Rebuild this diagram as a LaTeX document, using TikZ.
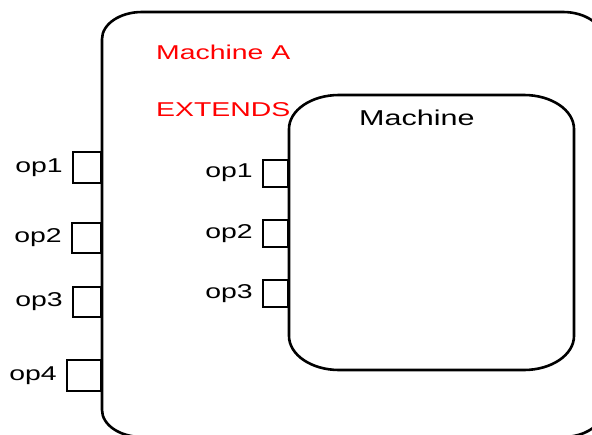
\documentclass[tikz,border=0pt]{standalone}
\usepackage{fontspec}
\setmainfont{Liberation Sans}
\newfontfamily\diagfont[FakeStretch=1.42]{Liberation Sans}
\usetikzlibrary{positioning}
\tikzset {
  machine box/.style = {
    draw = black,
    line width = 2.6pt
  },
  % interface port on the outer machine
  port/.style = {
    draw = black,
    rectangle,
    line width = 2pt,
    inner sep = 0,
    anchor = east
  },
  % interface port on the inner machine
  inport/.style = {
    port,
    minimum width = 25pt,
    minimum height = 27pt
  },
  op label/.style = {
    inner sep = 0,
    font = \diagfont\fontsize{20}{24}\selectfont
  },
  title/.style = {
    inner sep = 0,
    anchor = base west,
    font = \diagfont\fontsize{20}{24}\selectfont
  },
  node distance = 9pt
}
\begin{document}
\begin{tikzpicture}[x=1pt, y=-1pt]
    \useasboundingbox (0,0) rectangle (592,434);
    \clip (0,0) rectangle (592,434);

    % outer machine
    \draw[machine box] (102,39) arc[start angle=180, end angle=90, x radius=40pt, y radius=27pt]
      -- (563,12) arc[start angle=90, end angle=0, x radius=40pt, y radius=27pt]
      -- (603,410) arc[start angle=0, end angle=-90, x radius=40pt, y radius=27pt]
      -- (142,437) arc[start angle=270, end angle=180, x radius=40pt, y radius=27pt]
      -- cycle;
    % inner machine
    \draw[machine box] (289,129) arc[start angle=180, end angle=90, x radius=50pt, y radius=34pt]
      -- (524,95) arc[start angle=90, end angle=0, x radius=50pt, y radius=34pt]
      -- (574,336) arc[start angle=0, end angle=-90, x radius=50pt, y radius=34pt]
      -- (339,370) arc[start angle=270, end angle=180, x radius=50pt, y radius=34pt]
      -- cycle;

    \node[title, text=red] (name-a) at (156,59.5) {Machine A};
    \node[title, text=red] (extends) at (156,116.5) {EXTENDS};
    \node[title, font=\diagfont\fontsize{21.5}{25}\selectfont] (name-m) at (359,125) {Machine};

    \node[port, minimum width=28pt, minimum height=31pt] (a-op1) at (102,167.5) {};
    \node[port, minimum width=29pt, minimum height=30pt] (a-op2) at (102,238) {};
    \node[port, minimum width=28pt, minimum height=30pt] (a-op3) at (102,302) {};
    \node[port, minimum width=34pt, minimum height=31pt] (a-op4) at (102,375.5) {};
    \node[op label] (a-op1-label) [left=of a-op1] {op1};
    \node[op label] (a-op2-label) [left=of a-op2] {op2};
    \node[op label] (a-op3-label) [left=of a-op3] {op3};
    \node[op label] (a-op4-label) [left=of a-op4] {op4};

    \node[inport] (m-op1) at (289,173) {};
    \node[inport] (m-op2) at (289,233.5) {};
    \node[inport] (m-op3) at (289,293.5) {};
    \node[op label] (m-op1-label) [left=of m-op1] {op1};
    \node[op label] (m-op2-label) [left=of m-op2] {op2};
    \node[op label] (m-op3-label) [left=of m-op3] {op3};
\end{tikzpicture}
\end{document}
